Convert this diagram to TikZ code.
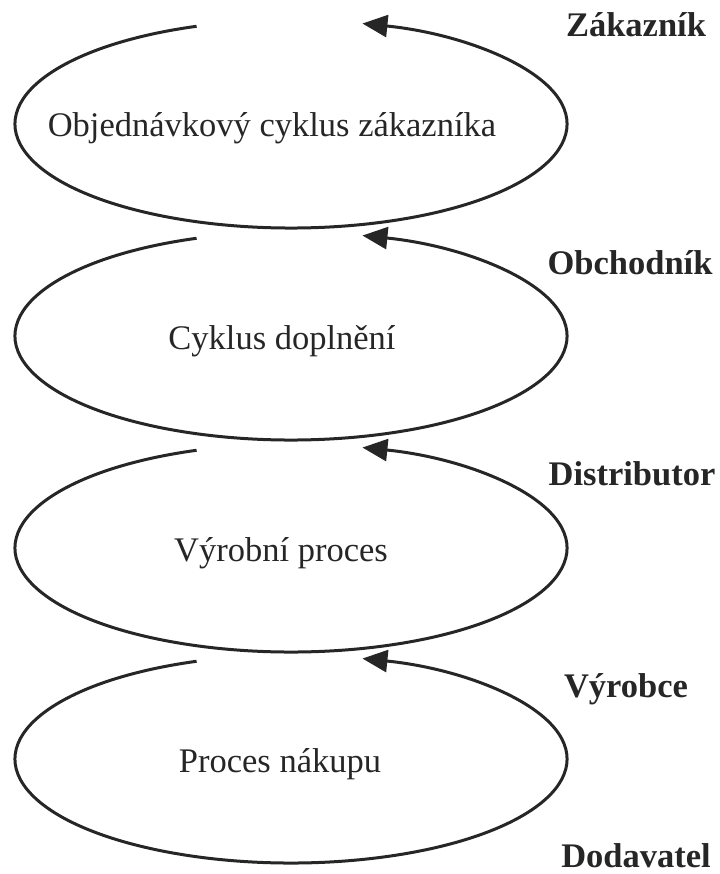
\documentclass[tikz,border=0pt]{standalone}
\usepackage{fontspec}
\setmainfont{Liberation Serif}
\usetikzlibrary{arrows.meta,calc}
\begin{document}
\begin{tikzpicture}[x=1pt,y=1pt,
  cyc/.style={line width=3pt,draw=black!85,-{Triangle[length=25pt,width=22pt]}},
  proc/.style={font=\fontsize{34.5}{40}\selectfont,text=black!85,inner sep=0pt,anchor=base},
  role/.style={font=\fontsize{34.5}{40}\selectfont\bfseries,text=black!85,inner sep=0pt,anchor=base}]
\useasboundingbox (0,0) rectangle (719,-874);
\foreach \i/\cy in {1/-124,2/-336,3/-548,4/-759}{
  \coordinate (c\i) at (291,\cy);
  \draw[cyc] ($(c\i)+(110:276 and 104)$) arc[start angle=110,end angle=435,x radius=276,y radius=104];
}
\node[proc] (p1) at ($(c1)+(-19,-13)$) {Objednávkový cyklus zákazníka};
\node[proc] (p2) at ($(c2)+(-9,-13)$) {Cyklus doplnění};
\node[proc] (p3) at ($(c3)+(-10,-13)$) {Výrobní proces};
\node[proc] (p4) at ($(c4)+(-11,-13)$) {Proces nákupu};
\node[role] (r1) at (636,-37) {Zákazník};
\node[role] (r2) at (630,-274) {Obchodník};
\node[role] (r3) at (632,-485) {Distributor};
\node[role] (r4) at (626,-697) {Výrobce};
\node[role] (r5) at (636,-867) {Dodavatel};
\end{tikzpicture}
\end{document}
